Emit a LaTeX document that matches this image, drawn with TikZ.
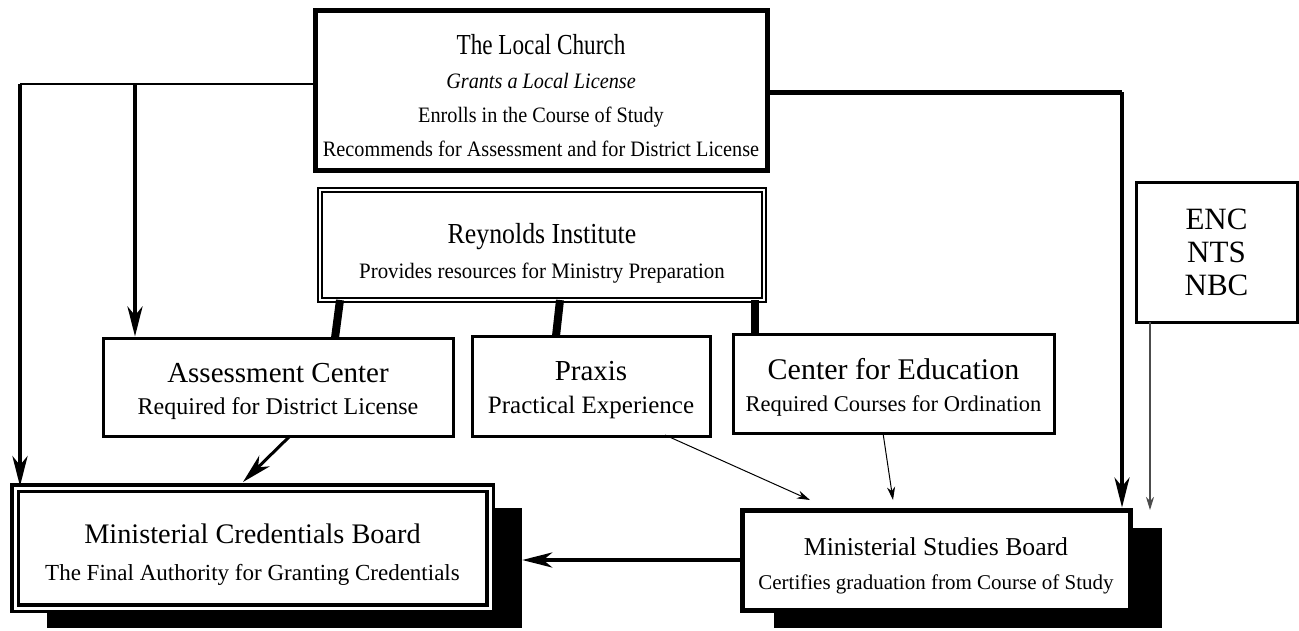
\documentclass[tikz,border=0pt]{standalone}
\usepackage{fontspec}
\setmainfont{Liberation Serif}
\usetikzlibrary{arrows.meta}
\newcommand{\fs}[1]{\fontsize{#1}{#1}\selectfont}
\newcommand{\nf}[2]{\fontsize{#1}{#2}\selectfont}
\newcommand{\upby}[1]{\rule{0pt}{#1}}
\begin{document}
\begin{tikzpicture}[x=1pt,y=-1pt,
  box/.style={draw, fill=white, line width=3pt, align=center, inner sep=0pt},
  dbox/.style={draw, fill=white, line width=2.2pt, double, double distance=2.5pt, align=center, inner sep=0pt},
  shadowbox/.style={fill=black, draw=none, inner sep=0pt},
  bigtip/.style={-{Stealth[length=30pt,width=15pt,inset=9pt]}},
  smalltip/.style={-{Stealth[length=13pt,width=8pt,inset=4pt]}},
  feed/.style={line width=8pt},
]
\useasboundingbox (0,0) rectangle (1299,630);

% shadows
\node[shadowbox, minimum width=475pt, minimum height=120pt] (mcbsh) at (284.5,568) {};
\node[shadowbox, minimum width=388pt, minimum height=100pt] (msbsh) at (968,578) {};

% nodes
\node[box, line width=5pt, minimum width=452pt, minimum height=160pt, font=\nf{22}{34}] (church) at (541,90)
  {\upby{32pt}{\fs{29}\addfontfeature{FakeStretch=0.8}The Local Church}\\
   {\addfontfeature{FakeStretch=0.92}\itshape Grants a Local License}\\
   {\addfontfeature{FakeStretch=0.92}Enrolls in the Course of Study}\\
   {\addfontfeature{FakeStretch=0.92}Recommends for Assessment and for District License}};

\node[dbox, minimum width=444pt, minimum height=110pt, font=\nf{22}{35}] (reyn) at (542,245)
  {\upby{36pt}{\fs{29}\addfontfeature{FakeStretch=0.89}Reynolds Institute}\\
   {\addfontfeature{FakeStretch=0.95}Provides resources for Ministry Preparation}};

\node[box, minimum width=350pt, minimum height=98pt, font=\nf{24}{32}] (assess) at (278,387)
  {\upby{28pt}{\fs{29}Assessment Center}\\
   Required for District License};

\node[box, minimum width=238pt, minimum height=100pt, font=\nf{25}{33}] (praxis) at (591,386)
  {\upby{27pt}{\fs{29}Praxis}\\
   Practical Experience};

\node[box, minimum width=321pt, minimum height=99pt, font=\nf{22.5}{32}] (cfe) at (893.5,383.5)
  {\upby{29pt}{\fs{30}Center for Education}\\
   Required Courses for Ordination};

\node[box, minimum width=161pt, minimum height=140pt, font=\nf{31}{33}] (enc) at (1216.5,252)
  {ENC\\NTS\\NBC};

\node[dbox, line width=3.5pt, double distance=3pt, minimum width=475pt, minimum height=120pt, font=\nf{23}{37}] (mcb) at (252.5,548)
  {\upby{33pt}{\fs{28.3}Ministerial Credentials Board}\\
   The Final Authority for Granting Credentials};

\node[box, line width=5pt, minimum width=388pt, minimum height=100pt, font=\nf{21}{34}] (msb) at (936,560)
  {\upby{30pt}{\fs{25.7}Ministerial Studies Board}\\
   Certifies graduation from Course of Study};

% coordinates
\coordinate (lj1) at (20,84);
\coordinate (lj2) at (135,84);
\coordinate (rj) at (1122,92);

% left branch
\draw[line width=2pt] (church.west |- lj1) -- (lj1);
\draw[line width=4.5pt, bigtip] (lj1) -- (lj1 |- mcb.north);
\draw[line width=4pt, bigtip] (lj2) -- (lj2 |- assess.north);

% right branch
\draw[line width=5pt] (church.east |- rj) -- (rj);
\draw[line width=3.5pt, bigtip] (rj) -- (rj |- msb.north);

% ENC
\draw[line width=1.2pt, draw=black!70, smalltip] (1150,322) -- (1150,510);

% Reynolds feeders
\draw[feed] (340,300) -- (335,338);
\draw[feed] (560,300) -- (556,336);
\draw[feed] (755,300) -- (755,334);

% to boards
\draw[line width=3pt, bigtip] (290,436) -- (243,482);
\draw[line width=1pt, smalltip] (665,435) -- (810,500);
\draw[line width=1pt, smalltip] (883,433) -- (893,500);
\draw[line width=4pt, bigtip] (msb.west) -- (mcbsh.east |- msb.west);
\end{tikzpicture}
\end{document}
